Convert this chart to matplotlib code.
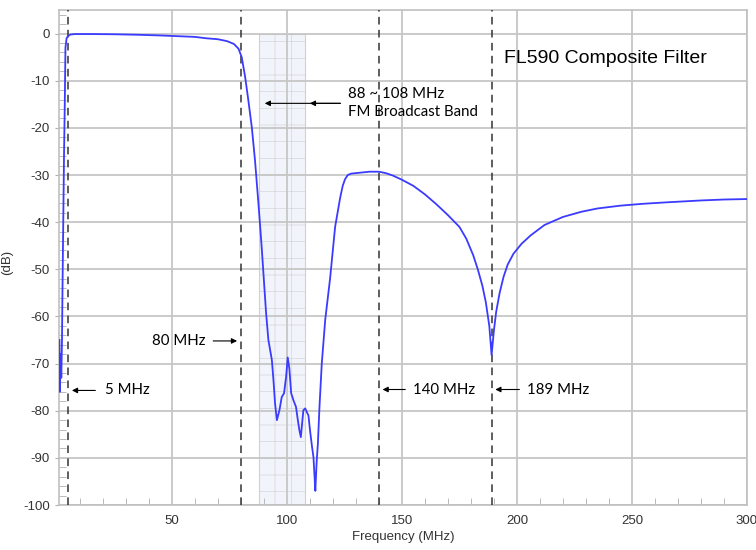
import matplotlib
matplotlib.use("Agg")
import matplotlib.pyplot as plt
from matplotlib.ticker import MultipleLocator

plt.rcParams["axes.unicode_minus"] = False
plt.rcParams["hatch.color"] = "#e4e9f2"
plt.rcParams["hatch.linewidth"] = 0.4

# ---- data ----
freq_mhz = [1.2, 1.4, 1.7, 2.0, 2.3, 2.5, 2.8, 3.2, 3.5, 3.8, 4.3, 5.0, 6.0, 8, 15, 25, 35, 45,
            55, 60, 65, 70, 74, 77, 79, 80.4, 81.9, 83.3, 84.8, 86.2, 87.7, 89.1, 90, 91, 92,
            93.5, 94.2, 94.9, 95.7, 96.8, 97.8, 98.8, 99.7, 100.4, 101.1, 101.9, 102.9, 104,
            104.8, 105.5, 106.1, 106.5, 107.2, 108, 108.7, 109.4, 110.1, 110.9, 111.6, 112,
            112.4, 113, 113.5, 114.2, 115.2, 116.7, 118.8, 121, 123.2, 124.3, 125.3, 126.5,
            128, 132, 136, 140, 143, 146, 150, 155, 160, 165, 170, 175, 178, 181, 183, 185,
            186.5, 188, 189, 190, 191, 192.5, 194.2, 196, 198.5, 202, 206, 212, 220, 228,
            235, 245, 255, 265, 280, 290, 300]
gain_db = [-65, -76, -68, -73, -65, -55, -42, -25, -15.5, -3, -1, -0.5, -0.2, -0.1, -0.1, -0.15,
           -0.25, -0.4, -0.6, -0.7, -1.0, -1.2, -1.6, -2.2, -3.2, -5, -9.2, -14.2, -19.9, -27,
           -36.2, -45.4, -52, -59.3, -65, -69.2, -73.5, -78.5, -82, -79.9, -77.1, -76.3,
           -72.8, -68.7, -71, -76.3, -77.8, -79.2, -82, -84.2, -85.6, -83.5, -79.9, -79.5,
           -80.3, -81, -84.2, -87.4, -89.9, -93.5, -97, -90.6, -87.1, -79.2, -70, -60.7,
           -52, -41, -34.8, -32.3, -30.9, -30.0, -29.7, -29.5, -29.3, -29.3, -29.6, -30.1,
           -31.0, -32.3, -34.1, -36.2, -38.5, -41.0, -43.5, -47.0, -50.0, -53.5, -57.0, -62.0,
           -68.2, -63.0, -59.0, -55.0, -51.6, -49.0, -46.7, -44.6, -42.8, -40.6, -38.9, -37.8,
           -37.1, -36.5, -36.1, -35.8, -35.4, -35.2, -35.1]

marker_freqs = [5, 80, 140, 189]
band = [88, 108]
title_text = "FL590 Composite Filter"
band_text = "88 ~ 108 MHz\nFM Broadcast Band"

# ---- figure ----
fig = plt.figure(figsize=(7.56, 5.50), dpi=100)
ax = fig.add_axes([59/756, 1-505/550, (747-59)/756, (505-10)/550])

ax.set_xlim(1, 300)
ax.set_ylim(-100, 5)

# shaded FM band
ax.fill_between(band, [0, 0], [-100, -100], facecolor="#f1f4fa", edgecolor="#d0d0d0",
                linewidth=0.8, hatch="+", zorder=0.4)

# grid & ticks
ax.xaxis.set_major_locator(MultipleLocator(50))
ax.yaxis.set_major_locator(MultipleLocator(10))
ax.xaxis.set_minor_locator(MultipleLocator(10))
ax.yaxis.set_minor_locator(MultipleLocator(2))
ax.grid(True, which="major", color="#c6c6c6", linewidth=1.3)
ax.set_axisbelow(True)

for s in ax.spines.values():
    s.set_color("#c0c0c0")
    s.set_linewidth(1.2)

ax.tick_params(axis="both", which="major", labelsize=9.5, labelcolor="#333333",
               color="#b0b0b0", length=3, direction="out")
ax.tick_params(axis="both", which="minor", color="#b0b0b0", length=5, direction="in")
ax.tick_params(axis="x", which="major", length=0, pad=7)
ax.set_xticks([50, 100, 150, 200, 250, 300])
ax.set_yticks(list(range(-100, 1, 10)))
for lab in ax.get_xticklabels() + ax.get_yticklabels():
    lab.set_family("Liberation Sans")

# dashed marker lines
for f in marker_freqs:
    ax.axvline(f, color="#333333", linestyle=(0, (5, 3.5)), linewidth=1.1, zorder=3)

# curve
ax.plot(freq_mhz, gain_db, color="#3b3bff", linewidth=1.3, zorder=4)

ax.set_xlabel("Frequency (MHz)", fontsize=9.5, color="#333333", labelpad=3,
              family="Liberation Sans")
ax.set_ylabel("(dB)", fontsize=9.5, color="#333333", family="Liberation Sans")
ax.yaxis.set_label_coords(-0.066, 0.49)

# annotations
txtkw = dict(fontsize=10.8, family=["Lato", "DejaVu Sans"], color="black")
arr = dict(arrowstyle="-|>", color="black", lw=0.8, mutation_scale=8)

ax.text(238.5, -5.3, title_text, fontsize=14, family=["Liberation Sans"],
        ha="center", va="center", zorder=6)

ax.text(126.6, -14.8, band_text, ha="left", va="center", linespacing=1.35, zorder=6, **txtkw)
ax.annotate("", xy=(89.2, -14.8), xytext=(124.5, -14.8), arrowprops=arr, zorder=6)
ax.annotate("", xy=(108.8, -14.8), xytext=(124.5, -14.8), arrowprops=arr, zorder=6)

ax.text(64.5, -65.2, "80 MHz", ha="right", va="center", zorder=6, **txtkw)
ax.annotate("", xy=(79.6, -65.2), xytext=(66.8, -65.2), arrowprops=arr, zorder=6)

ax.text(21.0, -75.7, "5 MHz", ha="left", va="center", zorder=6, **txtkw)
ax.annotate("", xy=(5.4, -75.7), xytext=(18.0, -75.7), arrowprops=arr, zorder=6)

ax.text(155.0, -75.5, "140 MHz", ha="left", va="center", zorder=6, **txtkw)
ax.annotate("", xy=(140.4, -75.5), xytext=(152.7, -75.5), arrowprops=arr, zorder=6)

ax.text(204.5, -75.5, "189 MHz", ha="left", va="center", zorder=6, **txtkw)
ax.annotate("", xy=(189.4, -75.5), xytext=(202.3, -75.5), arrowprops=arr, zorder=6)

fig.savefig("out.png", dpi=100)
